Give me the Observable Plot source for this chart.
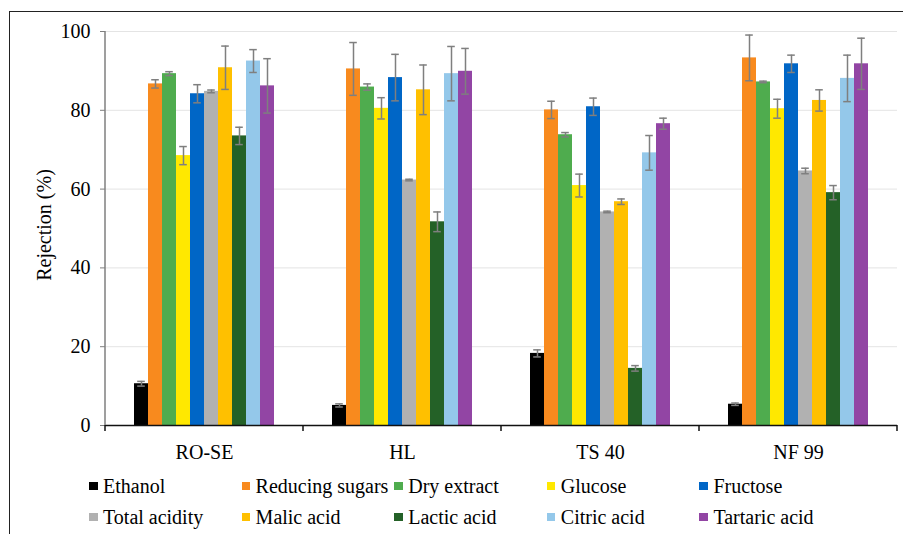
<!DOCTYPE html>
<html>
<head>
<meta charset="utf-8">
<script src="https://cdn.jsdelivr.net/npm/d3@7"></script>
<script src="https://cdn.jsdelivr.net/npm/@observablehq/plot@0.6"></script>
<style>
  html, body { margin: 0; padding: 0; background: #fff; }
  #wrap { position: relative; width: 903px; height: 534px; overflow: hidden; font-family: "Liberation Serif", "DejaVu Serif", "Times New Roman", serif; }
  #frame { position: absolute; left: 9px; top: 11px; right: -5px; bottom: -5px; border-left: 1.5px solid #222; border-top: 1.5px solid #222; pointer-events: none; }
  .leg { position: absolute; font-size: 20px; line-height: 20px; white-space: nowrap; color: #000; }
  .sw { position: absolute; width: 8.5px; height: 8.5px; }
</style>
</head>
<body>
<div id="wrap"><div id="frame"></div></div>
<script>
const categories = ["RO-SE", "HL", "TS 40", "NF 99"];
const series = ["Ethanol", "Reducing sugars", "Dry extract", "Glucose", "Fructose",
                "Total acidity", "Malic acid", "Lactic acid", "Citric acid", "Tartaric acid"];
const colors = ["#000000", "#F88A1E", "#4FAC4E", "#FFE800", "#0066C6",
                "#B1B1B1", "#FFC000", "#246127", "#94C8EA", "#9245A4"];
const yLabel = "Rejection (%)";

// values per series across categories [RO-SE, HL, TS 40, NF 99]
const ethanol        = [10.6,  5.1, 18.3,  5.4];
const reducingSugars = [86.7, 90.5, 80.1, 93.3];
const dryExtract     = [89.3, 85.9, 73.8, 87.2];
const glucose        = [68.5, 80.5, 60.9, 80.4];
const fructose       = [84.2, 88.3, 80.9, 91.8];
const totalAcidity   = [84.8, 62.3, 54.2, 64.6];
const malicAcid      = [90.8, 85.2, 56.8, 82.5];
const lacticAcid     = [73.5, 51.7, 14.5, 59.1];
const citricAcid     = [92.5, 89.3, 69.2, 88.1];
const tartaricAcid   = [86.2, 89.9, 76.6, 91.8];

// error (± half range) per series across categories
const ethanolErr        = [0.6, 0.4, 0.9, 0.3];
const reducingSugarsErr = [1.05, 6.7, 2.2, 5.8];
const dryExtractErr     = [0.5, 0.8, 0.55, 0.2];
const glucoseErr        = [2.3, 2.7, 2.9, 2.4];
const fructoseErr       = [2.3, 5.9, 2.2, 2.2];
const totalAcidityErr   = [0.35, 0.2, 0.2, 0.7];
const malicAcidErr      = [5.5, 6.3, 0.7, 2.7];
const lacticAcidErr     = [2.2, 2.5, 0.7, 1.8];
const citricAcidErr     = [2.9, 6.9, 4.4, 5.9];
const tartaricAcidErr   = [6.9, 5.8, 1.4, 6.5];

const yTicks = [0, 20, 40, 60, 80, 100];

const valueLists = [ethanol, reducingSugars, dryExtract, glucose, fructose,
                    totalAcidity, malicAcid, lacticAcid, citricAcid, tartaricAcid];
const errLists = [ethanolErr, reducingSugarsErr, dryExtractErr, glucoseErr, fructoseErr,
                  totalAcidityErr, malicAcidErr, lacticAcidErr, citricAcidErr, tartaricAcidErr];

const data = [];
categories.forEach((c, ci) => {
  series.forEach((s, si) => {
    const v = valueLists[si][ci], e = errLists[si][ci];
    data.push({cat: c, series: s, value: v, lo: v - e, hi: v + e});
  });
});

const FONT = "'Liberation Serif', 'DejaVu Serif', 'Times New Roman', serif";

const chart = Plot.plot({
  width: 903,
  height: 470,
  marginLeft: 105,
  marginRight: 6,
  marginTop: 31,
  marginBottom: 45,
  style: {fontFamily: FONT, fontSize: "20px", color: "#000", background: "transparent", overflow: "visible"},
  fx: {domain: categories, padding: 0, label: null, axis: "bottom", tickSize: 0, tickPadding: 19},
  x: {domain: series, axis: null, paddingInner: 0, paddingOuter: 1.64},
  y: {domain: [0, 100], ticks: yTicks, label: null, tickSize: 5, tickPadding: 10},
  color: {domain: series, range: colors},
  marks: [
    Plot.ruleY(yTicks.slice(1), {stroke: "#e4e4e4", strokeWidth: 1}),
    Plot.barY(data, {fx: "cat", x: "series", y: "value", fill: "series"}),
    Plot.ruleX(data, {fx: "cat", x: "series", y1: "lo", y2: "hi", stroke: "#7f7f7f", strokeWidth: 1.5}),
    Plot.tickY(data, {fx: "cat", x: "series", y: "lo", stroke: "#7f7f7f", strokeWidth: 1.5, insetLeft: 3.2, insetRight: 3.2}),
    Plot.tickY(data, {fx: "cat", x: "series", y: "hi", stroke: "#7f7f7f", strokeWidth: 1.5, insetLeft: 3.2, insetRight: 3.2}),
    Plot.ruleY([0], {stroke: "#111", strokeWidth: 1.5})
  ]
});

document.getElementById("wrap").appendChild(chart);

// axis decorations drawn from the Plot scales
const svg = d3.select(chart);
const fxS = chart.scale("fx");
const yS = chart.scale("y");
const bw = fxS.bandwidth;
svg.selectAll("g[aria-label='y-axis tick'] path, g[aria-label='y-axis tick'] line").attr("stroke", "#7f7f7f");
const deco = svg.append("g");
deco.append("line")
  .attr("x1", fxS.apply(categories[0])).attr("x2", fxS.apply(categories[0]))
  .attr("y1", yS.apply(0)).attr("y2", yS.apply(100))
  .attr("stroke", "#7f7f7f").attr("stroke-width", 1.5);
const bounds = categories.map(c => fxS.apply(c)).concat([fxS.apply(categories[categories.length - 1]) + bw]);
bounds.forEach(b => {
  deco.append("line").attr("x1", b).attr("x2", b)
    .attr("y1", yS.apply(0)).attr("y2", yS.apply(0) + 6)
    .attr("stroke", "#111").attr("stroke-width", 1.5);
});
// y-axis title
deco.append("text")
  .attr("transform", `translate(44,${(yS.apply(40) + yS.apply(60)) / 2 - 3}) rotate(-90)`)
  .attr("text-anchor", "middle")
  .attr("dominant-baseline", "central")
  .attr("fill", "#000")
  .style("font-family", FONT)
  .style("font-size", "20px")
  .text(yLabel);

// legend
const wrap = document.getElementById("wrap");
series.forEach((s, i) => {
  const row = Math.floor(i / 5), col = i % 5;
  const left = 89 + col * 152.6;
  const cy = 486 + row * 31;
  const sw = document.createElement("div");
  sw.className = "sw";
  sw.style.left = left + "px";
  sw.style.top = (cy - 4.5) + "px";
  sw.style.background = colors[i];
  wrap.appendChild(sw);
  const t = document.createElement("div");
  t.className = "leg";
  t.style.left = (left + 14) + "px";
  t.style.top = (cy - 10) + "px";
  t.textContent = s;
  wrap.appendChild(t);
});
</script>
</body>
</html>
